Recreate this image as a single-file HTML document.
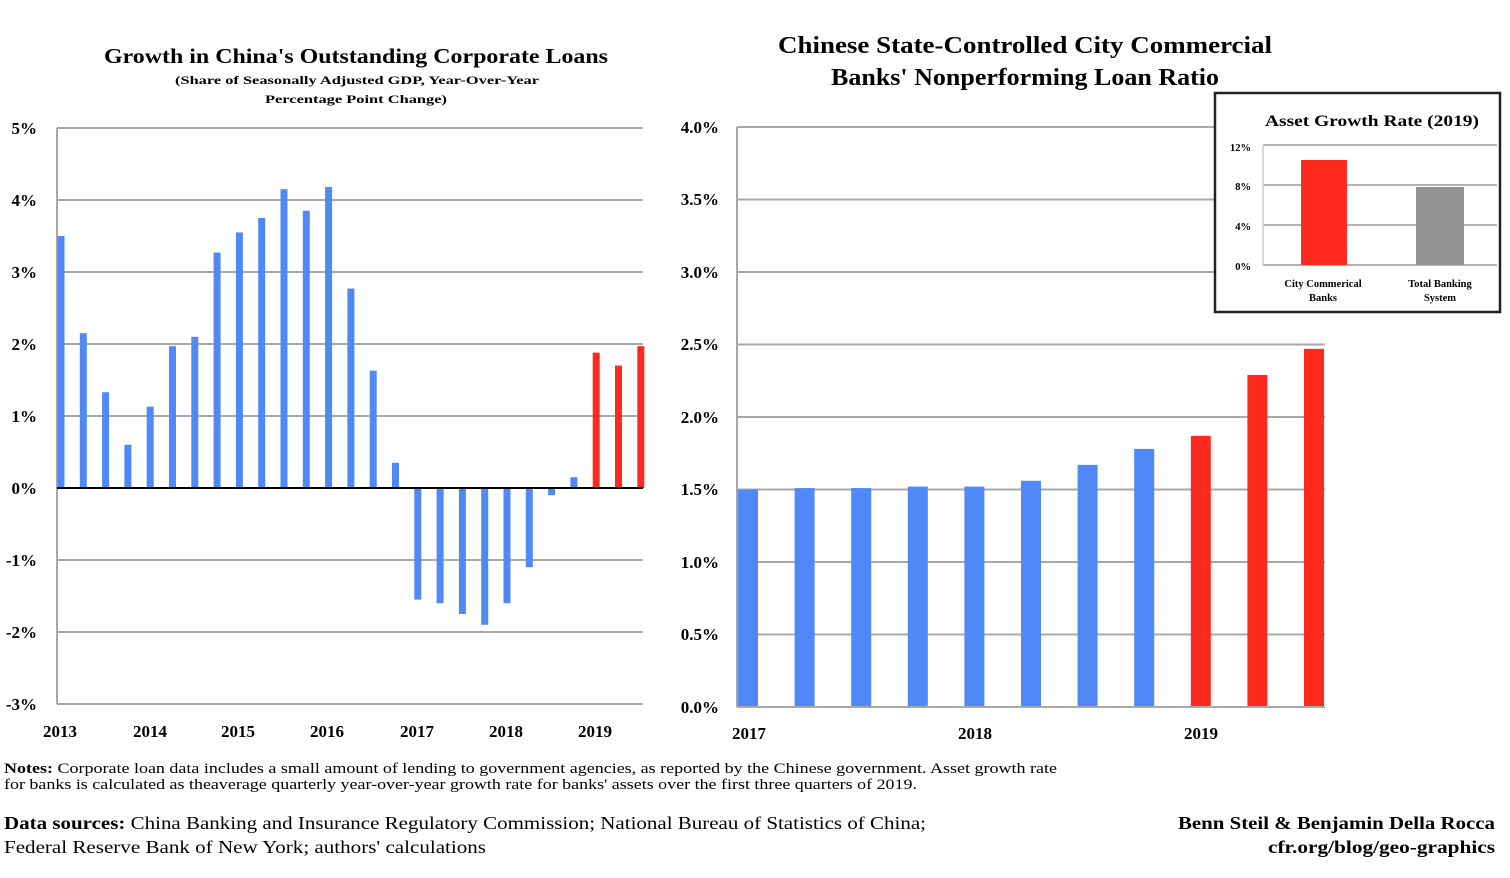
<!DOCTYPE html><html><head><style>body{margin:0;background:#fff}svg{display:block}</style></head><body>
<svg width="1510" height="878" xmlns="http://www.w3.org/2000/svg" font-family="'Liberation Serif',serif">
<rect width="1510" height="878" fill="#fff"/>
<g font-weight="bold" fill="#000" text-anchor="middle">
<text x="356" y="63" font-size="21" textLength="504" lengthAdjust="spacingAndGlyphs">Growth in China's Outstanding Corporate Loans</text>
<text x="357" y="84" font-size="12" textLength="364" lengthAdjust="spacingAndGlyphs">(Share of Seasonally Adjusted GDP, Year-Over-Year</text>
<text x="356" y="103" font-size="12" textLength="182" lengthAdjust="spacingAndGlyphs">Percentage Point Change)</text>
<text x="1025" y="53" font-size="24" textLength="494" lengthAdjust="spacingAndGlyphs">Chinese State-Controlled City Commercial</text>
<text x="1025" y="85" font-size="24" textLength="388" lengthAdjust="spacingAndGlyphs">Banks' Nonperforming Loan Ratio</text>
</g>
<g stroke="#a8a8a8" stroke-width="2">
<line x1="57" x2="643" y1="128" y2="128"/><line x1="57" x2="643" y1="200" y2="200"/><line x1="57" x2="643" y1="272" y2="272"/><line x1="57" x2="643" y1="344" y2="344"/><line x1="57" x2="643" y1="416" y2="416"/><line x1="57" x2="643" y1="560" y2="560"/><line x1="57" x2="643" y1="632" y2="632"/><line x1="57" x2="643" y1="704" y2="704"/>
<line x1="57" x2="57" y1="128" y2="704"/>
<line x1="737" x2="1325" y1="127" y2="127"/><line x1="737" x2="1325" y1="199.5" y2="199.5"/><line x1="737" x2="1325" y1="272" y2="272"/><line x1="737" x2="1325" y1="344.5" y2="344.5"/><line x1="737" x2="1325" y1="417" y2="417"/><line x1="737" x2="1325" y1="489.5" y2="489.5"/><line x1="737" x2="1325" y1="562" y2="562"/><line x1="737" x2="1325" y1="634.5" y2="634.5"/>
<line x1="737" x2="737" y1="127" y2="707"/>
</g>
<g font-weight="bold" font-size="17" text-anchor="end">
<text x="37" y="134">5%</text><text x="37" y="206">4%</text><text x="37" y="278">3%</text><text x="37" y="350">2%</text><text x="37" y="422">1%</text><text x="37" y="494">0%</text><text x="37" y="566">-1%</text><text x="37" y="638">-2%</text><text x="37" y="710">-3%</text>
<text x="719" y="133">4.0%</text><text x="719" y="205">3.5%</text><text x="719" y="278">3.0%</text><text x="719" y="350">2.5%</text><text x="719" y="423">2.0%</text><text x="719" y="495">1.5%</text><text x="719" y="568">1.0%</text><text x="719" y="640">0.5%</text><text x="719" y="713">0.0%</text>
</g>
<g font-weight="bold" font-size="17" text-anchor="middle">
<text x="60" y="737">2013</text><text x="150" y="737">2014</text><text x="238" y="737">2015</text><text x="327" y="737">2016</text><text x="417" y="737">2017</text><text x="506" y="737">2018</text><text x="595" y="737">2019</text>
<text x="749" y="739">2017</text><text x="975" y="739">2018</text><text x="1201" y="739">2019</text>
</g>
<g id="L"></g>
<g id="R"></g>
<line x1="57" x2="643" y1="488" y2="488" stroke="#000" stroke-width="2"/>
<line x1="737" x2="1325" y1="707" y2="707" stroke="#a8a8a8" stroke-width="2"/>
<rect x="1215" y="93" width="285" height="219" fill="#fff" stroke="#222" stroke-width="2.5"/>
<text x="1372" y="126" font-weight="bold" font-size="16" text-anchor="middle" textLength="214" lengthAdjust="spacingAndGlyphs">Asset Growth Rate (2019)</text>
<g stroke="#999" stroke-width="1.5"><line x1="1263" x2="1497" y1="145" y2="145"/><line x1="1263" x2="1497" y1="185" y2="185"/><line x1="1263" x2="1497" y1="225" y2="225"/><line x1="1263" x2="1497" y1="265" y2="265"/><line x1="1263" x2="1263" y1="145" y2="265" stroke="#ccc"/></g>
<rect x="1301" y="160" width="46" height="105" fill="#ff2a1e"/>
<rect x="1416" y="187" width="48" height="78" fill="#939393"/>
<g font-weight="bold" font-size="10.5" text-anchor="end"><text x="1251" y="151">12%</text><text x="1251" y="190">8%</text><text x="1251" y="230">4%</text><text x="1251" y="270">0%</text></g>
<g font-weight="bold" font-size="10.5" text-anchor="middle"><text x="1323" y="287">City Commerical</text><text x="1323" y="301">Banks</text><text x="1440" y="287">Total Banking</text><text x="1440" y="301">System</text></g>
<g font-size="14.5">
<text x="4" y="773" textLength="1053" lengthAdjust="spacingAndGlyphs"><tspan font-weight="bold">Notes:</tspan> Corporate loan data includes a small amount of lending to government agencies, as reported by the Chinese government. Asset growth rate</text>
<text x="4" y="789" textLength="913" lengthAdjust="spacingAndGlyphs">for banks is calculated as theaverage quarterly year-over-year growth rate for banks' assets over the first three quarters of 2019.</text>
<text x="4" y="829" font-size="17.5" textLength="922" lengthAdjust="spacingAndGlyphs"><tspan font-weight="bold">Data sources:</tspan> China Banking and Insurance Regulatory Commission; National Bureau of Statistics of China;</text>
<text x="4" y="853" font-size="17.5" textLength="482" lengthAdjust="spacingAndGlyphs">Federal Reserve Bank of New York; authors' calculations</text>
<text x="1495" y="829" font-size="17.5" font-weight="bold" text-anchor="end" textLength="317" lengthAdjust="spacingAndGlyphs">Benn Steil &amp; Benjamin Della Rocca</text>
<text x="1495" y="853" font-size="17.5" font-weight="bold" text-anchor="end" textLength="227" lengthAdjust="spacingAndGlyphs">cfr.org/blog/geo-graphics</text>
</g>
<script>
var ns="http://www.w3.org/2000/svg";
var lv=[3.5,2.15,1.33,0.6,1.13,1.97,2.1,3.27,3.55,3.75,4.15,3.85,4.18,2.77,1.63,0.35,-1.55,-1.6,-1.75,-1.9,-1.6,-1.1,-0.1,0.15,1.88,1.7,1.97];
var L=document.getElementById("L");
lv.forEach(function(v,i){var r=document.createElementNS(ns,"rect");var cx=61+i*22.3;var h=Math.abs(v)*72;r.setAttribute("x",cx-3.5);r.setAttribute("width",7);r.setAttribute("y",v>0?488-h:488);r.setAttribute("height",h);r.setAttribute("fill",i>=24?"#ff2a1e":"#4f88f7");L.appendChild(r);});
var rv=[1.5,1.51,1.51,1.52,1.52,1.56,1.67,1.78,1.87,2.29,2.47];
var R=document.getElementById("R");
rv.forEach(function(v,i){var r=document.createElementNS(ns,"rect");var cx=748+i*56.6;var h=v*145;r.setAttribute("x",cx-10);r.setAttribute("width",20);r.setAttribute("y",707-h);r.setAttribute("height",h);r.setAttribute("fill",i>=8?"#ff2a1e":"#4f88f7");R.appendChild(r);});
</script>
</svg></body></html>
